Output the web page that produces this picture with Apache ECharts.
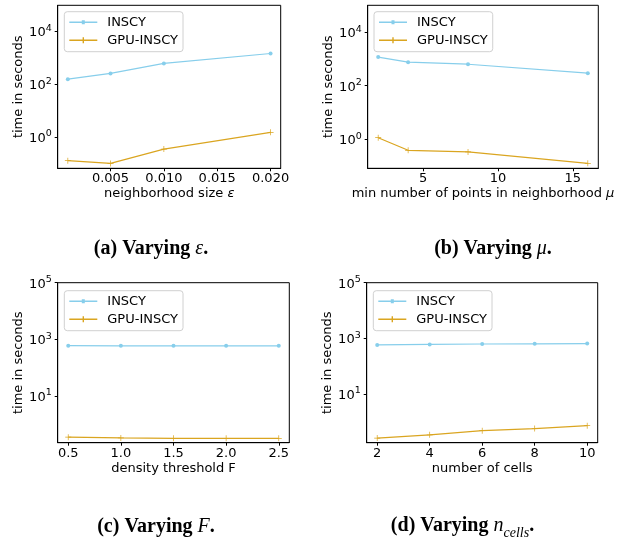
<!DOCTYPE html>
<html>
<head>
<meta charset="utf-8">
<script src="https://cdn.jsdelivr.net/npm/echarts@6.0.0/dist/echarts.min.js"></script>
<style>
html,body{margin:0;padding:0;background:#fff;}
#c{width:635px;height:537px;}
</style>
</head>
<body>
<div id="c"></div>
<script>
// ---- data ----
const seriesNames = ['INSCY', 'GPU-INSCY'];

const epsX = [0.001, 0.005, 0.010, 0.020];
const epsINSCY = [155, 257, 614, 1470];
const epsGPU = [0.123, 0.097, 0.34, 1.47];

const muX = [2, 4, 8, 16];
const muINSCY = [1170, 755, 634, 293];
const muGPU = [1.15, 0.39, 0.34, 0.127];

const fX = [0.5, 1.0, 1.5, 2.0, 2.5];
const fINSCY = [595, 592, 590, 590, 588];
const fGPU = [0.35, 0.33, 0.32, 0.32, 0.32];

const cellsX = [2, 4, 6, 8, 10];
const cellsINSCY = [575, 600, 620, 630, 645];
const cellsGPU = [0.255, 0.335, 0.47, 0.56, 0.71];

const epsTicks = [0.005, 0.010, 0.015, 0.020];
const muTicks = [5, 10, 15];
const fTicks = [0.5, 1.0, 1.5, 2.0, 2.5];
const cellsTicks = [2, 4, 6, 8, 10];
const yTicksAB = [1, 100, 10000];
const yTicksCD = [10, 1000, 100000];

const captions = [
  '(a) Varying {i|ε}.',
  '(b) Varying {i|μ}.',
  '(c) Varying {i|F}.',
  '(d) Varying {i|n}{sub|cells}.'
];
const xNames = [
  'neighborhood size {i|ε}',
  'min number of points in neighborhood {i|μ}',
  'density threshold F',
  'number of cells'
];

// ---- layout ----
const FONT = 'DejaVu Sans';
const FS = 13;
const C_INSCY = '#87ceeb';
const C_GPU = '#daa520';
const PLUS = 'path://M0,4.4 L10,4.4 L10,5.6 L0,5.6 Z M4.4,0 L5.6,0 L5.6,10 L4.4,10 Z';
const ICON_DOT = 'path://M0,1.2 L12.5,1.2 L12.5,0 L15.5,0 L15.5,1.2 L28,1.2 L28,2.8 L15.5,2.8 L15.5,4 L12.5,4 L12.5,2.8 L0,2.8 Z';
const ICON_PLUS = 'path://M0,2.3 L13.3,2.3 L13.3,0 L14.7,0 L14.7,2.3 L28,2.3 L28,3.7 L14.7,3.7 L14.7,6 L13.3,6 L13.3,3.7 L0,3.7 Z';

const panels = [
  {grid:{left:57.7, top:5.3, width:223, height:163}, xr:[0.00005, 0.02095], yr:[Math.pow(10,-1.2), 1e5],
   xs:epsX, a:epsINSCY, b:epsGPU, xt:epsTicks, yt:yTicksAB, fmt:v=>v.toFixed(3),
   legend:{left:64.3, top:11.7}, cap:{x:146, y:244}},
  {grid:{left:367.7, top:5.3, width:230.6, height:163}, xr:[1.3, 16.7], yr:[Math.pow(10,-1.08), 1e5],
   xs:muX, a:muINSCY, b:muGPU, xt:muTicks, yt:yTicksAB, fmt:v=>String(Math.round(v)),
   legend:{left:374, top:11.7}, cap:{x:488, y:244}},
  {grid:{left:57.7, top:282.7, width:231.6, height:160}, xr:[0.4, 2.6], yr:[Math.pow(10,-0.65), 1e5],
   xs:fX, a:fINSCY, b:fGPU, xt:fTicks, yt:yTicksCD, fmt:v=>v.toFixed(1),
   legend:{left:64.3, top:290.7}, cap:{x:151, y:522}},
  {grid:{left:366.7, top:282.7, width:231, height:160}, xr:[1.6, 10.4], yr:[Math.pow(10,-0.76), 1e5],
   xs:cellsX, a:cellsINSCY, b:cellsGPU, xt:cellsTicks, yt:yTicksCD, fmt:v=>String(Math.round(v)),
   legend:{left:373.3, top:290.7}, cap:{x:457.5, y:521}}
];

const grids = [], xAxes = [], yAxes = [], series = [], legends = [], titles = [];
panels.forEach((p, k) => {
  grids.push(Object.assign({show:true, borderColor:'#000', borderWidth:1, backgroundColor:'transparent', containLabel:false}, p.grid));
  xAxes.push({
    type:'value', gridIndex:k, min:p.xr[0], max:p.xr[1],
    name:xNames[k], nameLocation:'middle', nameGap:19,
    nameTextStyle:{fontFamily:FONT, fontSize:FS, color:'#000',
      rich:{i:{fontFamily:FONT, fontStyle:'italic', fontSize:FS, color:'#000'}}},
    axisLine:{show:true, onZero:false, lineStyle:{color:'#000', width:1}},
    axisTick:{show:true, length:3, lineStyle:{color:'#000'}, customValues:p.xt},
    axisLabel:{show:true, margin:4, fontFamily:FONT, fontSize:FS, color:'#000', customValues:p.xt, formatter:p.fmt,
      showMinLabel:true, showMaxLabel:true},
    splitLine:{show:false}
  });
  yAxes.push({
    type:'log', logBase:10, gridIndex:k, min:p.yr[0], max:p.yr[1],
    name:'time in seconds', nameLocation:'middle', nameGap:31, nameRotate:90,
    nameTextStyle:{fontFamily:FONT, fontSize:FS, color:'#000'},
    axisLine:{show:true, onZero:false, lineStyle:{color:'#000', width:1}},
    axisTick:{show:true, length:3, lineStyle:{color:'#000'}, customValues:p.yt},
    axisLabel:{show:true, margin:6, customValues:p.yt,
      formatter:v=>'{b|10}{s|' + Math.round(Math.log10(v)) + '}',
      rich:{
        b:{fontFamily:FONT, fontSize:FS, color:'#000', lineHeight:16, verticalAlign:'bottom'},
        s:{fontFamily:FONT, fontSize:9.5, color:'#000', lineHeight:9, verticalAlign:'top'}
      }},
    splitLine:{show:false}
  });
  series.push({
    name:seriesNames[0], type:'line', xAxisIndex:k, yAxisIndex:k,
    data:p.xs.map((x,i)=>[x, p.a[i]]),
    symbol:'circle', symbolSize:4, showSymbol:true,
    lineStyle:{color:C_INSCY, width:1.2}, itemStyle:{color:C_INSCY},
    animation:false
  });
  series.push({
    name:seriesNames[1], type:'line', xAxisIndex:k, yAxisIndex:k,
    data:p.xs.map((x,i)=>[x, p.b[i]]),
    symbol:PLUS, symbolSize:6, showSymbol:true,
    lineStyle:{color:C_GPU, width:1.2}, itemStyle:{color:C_GPU},
    animation:false
  });
  legends.push({
    left:p.legend.left, top:p.legend.top, orient:'vertical',
    data:[{name:seriesNames[0], icon:ICON_DOT}, {name:seriesNames[1], icon:ICON_PLUS}],
    itemWidth:28, itemHeight:14, itemGap:5, symbolKeepAspect:true,
    padding:[4,5,5,5], borderColor:'#d0d0d0', borderWidth:1, borderRadius:3,
    backgroundColor:'rgba(255,255,255,0.8)',
    textStyle:{fontFamily:FONT, fontSize:FS, color:'#000', padding:[0,0,0,5]},
    selectedMode:false
  });
  titles.push({
    text:captions[k], left:p.cap.x, top:p.cap.y, textAlign:'center', textVerticalAlign:'middle',
    textStyle:{fontFamily:'Liberation Serif', fontWeight:'bold', fontSize:20, color:'#000',
      rich:{
        i:{fontFamily:'Liberation Serif', fontStyle:'italic', fontWeight:'normal', fontSize:20, color:'#000'},
        sub:{fontFamily:'Liberation Serif', fontStyle:'italic', fontWeight:'normal', fontSize:14, color:'#000', verticalAlign:'bottom', lineHeight:28}
      }}
  });
});

const chart = echarts.init(document.getElementById('c'), null, {renderer:'canvas'});
chart.setOption({
  animation:false,
  backgroundColor:'#fff',
  title:titles,
  grid:grids, xAxis:xAxes, yAxis:yAxes, series:series, legend:legends
});
</script>
</body>
</html>
